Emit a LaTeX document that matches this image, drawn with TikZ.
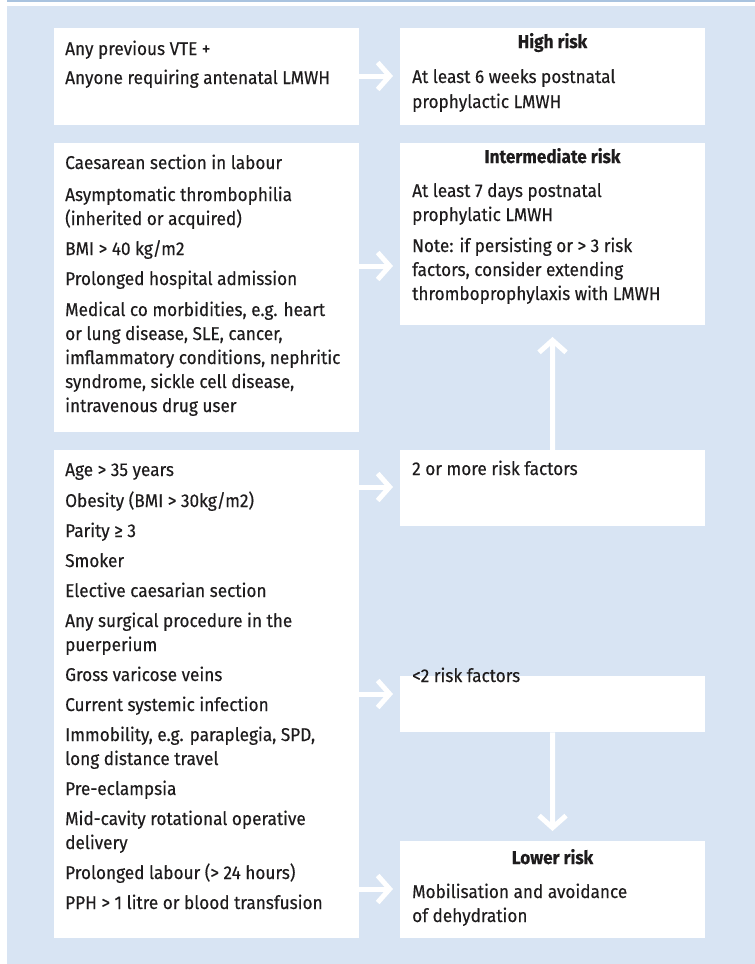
\documentclass[tikz,border=0pt]{standalone}
\usepackage{fontspec}
\setmainfont{Fira Sans}[FakeStretch=0.93, FakeBold=0.3]
\usetikzlibrary{arrows.meta}
\definecolor{bgblue}{HTML}{D8E4F3}
\definecolor{topline}{HTML}{A9C3DF}
\definecolor{ink}{HTML}{1E1C1D}
\tikzset{
  box/.style={fill=white, draw=none, inner sep=0pt, minimum width=305pt, anchor=north west},
  txt/.style={inner sep=0pt, anchor=base west, text=ink, font=\fontsize{18.5}{21}\selectfont},
  ttl/.style={inner sep=0pt, anchor=base, text=ink, font=\fontsize{18.5}{21}\selectfont\bfseries},
  flow/.style={draw=white, line width=5pt, -{Straight Barb[sharp, length=12pt, width=27pt]}}
}
\newcommand\tline[3]{\node[txt] (#1) at (#2) {#3};}
\begin{document}
\begin{tikzpicture}[x=1pt, y=-1pt]
\useasboundingbox (0,0) rectangle (755,964);
\fill[white] (0,0) rectangle (755,964);
\draw[topline, line width=1.5pt] (7,0.75) -- (755,0.75);
\fill[bgblue] (7,6) rectangle (755,964);

% boxes
\node[box, minimum height=97pt]  (A)    at (54,28)  {};
\node[box, minimum height=97pt]  (HR)   at (400,28) {};
\node[box, minimum height=289pt] (B)    at (54,143) {};
\node[box, minimum height=182pt] (IR)   at (400,143) {};
\node[box, minimum height=488pt] (C)    at (54,450) {};
\node[box, minimum height=76pt]  (two)  at (400,450) {};
\node[box, minimum height=56pt]  (less) at (400,676) {};
\node[box, minimum height=97pt]  (LR)   at (400,841) {};

% box A
\tline{a1}{65,55}{Any previous VTE +}
\tline{a2}{65,84}{Anyone requiring antenatal LMWH}
% High risk
\node[ttl] (hrt) at (552.5,48) {High risk};
\tline{h1}{412,83}{At least 6 weeks postnatal}
\tline{h2}{412,108}{prophylactic LMWH}
% box B
\tline{b1}{65,169}{Caesarean section in labour}
\tline{b2}{65,201}{Asymptomatic thrombophilia}
\tline{b3}{65,225}{(inherited or acquired)}
\tline{b4}{65,255}{BMI > 40 kg/m2}
\tline{b5}{65,285}{Prolonged hospital admission}
\tline{b6}{65,316}{Medical co morbidities, e.g. heart}
\tline{b7}{65,340}{or lung disease, SLE, cancer,}
\tline{b8}{65,364}{imflammatory conditions, nephritic}
\tline{b9}{65,388}{syndrome, sickle cell disease,}
\tline{b10}{65,412}{intravenous drug user}
% Intermediate risk
\node[ttl] (irt) at (552.5,163) {Intermediate risk};
\tline{i1}{412,197}{At least 7 days postnatal}
\tline{i2}{412,221}{prophylatic LMWH}
\tline{i3}{412,252}{Note: if persisting or > 3 risk}
\tline{i4}{412,276}{factors, consider extending}
\tline{i5}{412,300}{thromboprophylaxis with LMWH}
% box C
\tline{c1}{65,476}{Age > 35 years}
\tline{c2}{65,507}{Obesity (BMI > 30kg/m2)}
\tline{c3}{65,537}{Parity ≥ 3}
\tline{c4}{65,567}{Smoker}
\tline{c5}{65,597}{Elective caesarian section}
\tline{c6}{65,627}{Any surgical procedure in the}
\tline{c7}{65,651}{puerperium}
\tline{c8}{65,681}{Gross varicose veins}
\tline{c9}{65,711}{Current systemic infection}
\tline{c10}{65,741}{Immobility, e.g. paraplegia, SPD,}
\tline{c11}{65,765}{long distance travel}
\tline{c12}{65,795}{Pre-eclampsia}
\tline{c13}{65,825}{Mid-cavity rotational operative}
\tline{c14}{65,849}{delivery}
\tline{c15}{65,879}{Prolonged labour (> 24 hours)}
\tline{c16}{65,909}{PPH > 1 litre or blood transfusion}
% right small boxes
\tline{t1}{412,475}{2 or more risk factors}
\tline{l1}{412,682}{<2 risk factors}
\node[ttl] (lrt) at (552.5,864) {Lower risk};
\tline{lr1}{412,898}{Mobilisation and avoidance}
\tline{lr2}{412,922}{of dehydration}

% arrow ends
\coordinate (e1) at (393,76);
\coordinate (e2) at (393,266);
\coordinate (e3) at (393,487);
\coordinate (e4) at (393,694);
\coordinate (e5) at (393,889);
\coordinate (e6) at (552.5,337);
\coordinate (e7) at (552.5,831);

\draw[flow] (A.east |- e1) -- (e1);
\draw[flow] (B.east |- e2) -- (e2);
\draw[flow] (C.east |- e3) -- (e3);
\draw[flow] (C.east |- e4) -- (e4);
\draw[flow] (C.east |- e5) -- (e5);
\draw[flow] (two.north) -- (e6);
\draw[flow] (less.south) -- (e7);
\end{tikzpicture}
\end{document}
